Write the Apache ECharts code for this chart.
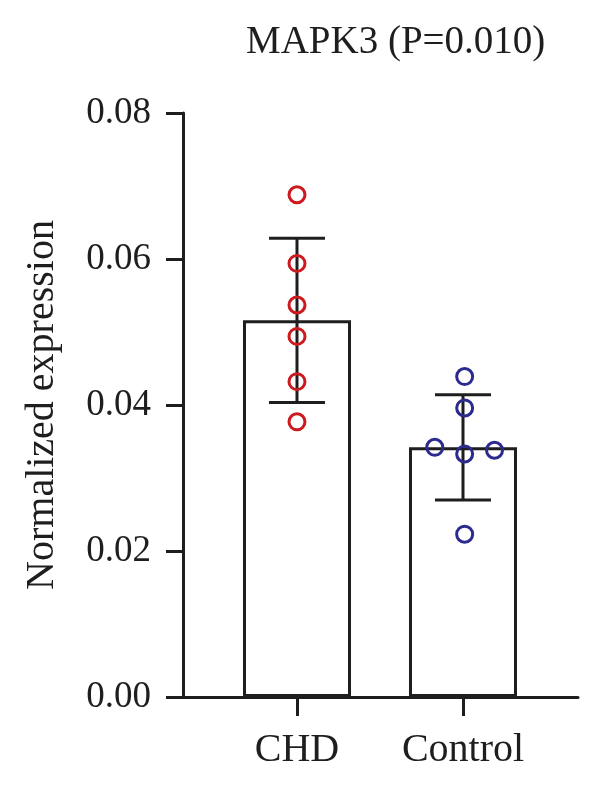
<!DOCTYPE html>
<html>
<head>
<meta charset="utf-8">
<script src="https://cdn.jsdelivr.net/npm/echarts@6/dist/echarts.min.js"></script>
<style>html,body{margin:0;padding:0;background:#fff}#c{width:600px;height:787px}</style>
</head>
<body>
<div id="c"></div>
<script>
var categories = ['CHD', 'Control'];
var barMeans = [0.0516, 0.0342];
var barSDs = [0.01125, 0.0072];
var chdValues = [0.0688, 0.0594, 0.0537, 0.0494, 0.0432, 0.0377];
var chdJitter = [0, 0, 0, 0, 0, 0];
var controlValues = [0.0439, 0.0396, 0.0342, 0.0333, 0.0338, 0.0223];
var controlJitter = [0.01, 0.01, -0.17, 0.01, 0.19, 0.01];
var yTicks = [0, 0.02, 0.04, 0.06, 0.08];
var titleText = 'MAPK3 (P=0.010)';
var yName = 'Normalized expression';

var FONT = '"Liberation Serif", "Times New Roman", serif';
var INK = '#1e1e1e';

var chart = echarts.init(document.getElementById('c'), null, {renderer: 'canvas'});

var barData = barMeans.map(function (m, i) { return [i, m]; });
var errData = barMeans.map(function (m, i) { return [i, m, barSDs[i]]; });
var chdPts = chdValues.map(function (v, i) { return [0 + chdJitter[i], v]; });
var ctrlPts = controlValues.map(function (v, i) { return [1 + controlJitter[i], v]; });

var option = {
  backgroundColor: '#ffffff',
  animation: false,
  title: {
    text: titleText,
    left: 241,
    top: 18,
    textStyle: {fontFamily: FONT, fontSize: 39, fontWeight: 'normal', color: INK}
  },
  grid: {left: 183, right: 22, top: 113, bottom: 90},
  xAxis: {
    type: 'value',
    min: -0.6867,
    max: 1.6928,
    splitLine: {show: false},
    axisLine: {show: true, onZero: false, lineStyle: {color: INK, width: 3}},
    axisTick: {show: true, customValues: [0, 1], length: 19, lineStyle: {color: INK, width: 3}},
    axisLabel: {
      customValues: [0, 1],
      margin: 33,
      fontFamily: FONT, fontSize: 40, color: INK,
      formatter: function (v) { return categories[Math.round(v)]; }
    }
  },
  yAxis: {
    type: 'value',
    min: yTicks[0],
    max: yTicks[yTicks.length - 1],
    interval: 0.02,
    name: yName,
    nameLocation: 'middle',
    nameRotate: 90,
    nameGap: 121,
    nameTextStyle: {fontFamily: FONT, fontSize: 40, color: INK},
    splitLine: {show: false},
    axisLine: {show: true, onZero: false, lineStyle: {color: INK, width: 3}},
    axisTick: {show: true, length: 17, lineStyle: {color: INK, width: 3}},
    axisLabel: {
      margin: 32,
      fontFamily: FONT, fontSize: 37, color: INK,
      formatter: function (v) { return v.toFixed(2); }
    }
  },
  series: [
    {
      type: 'bar',
      data: barData,
      barWidth: 108,
      z: 1,
      itemStyle: {color: '#ffffff', borderColor: INK, borderWidth: 3}
    },
    {
      type: 'custom',
      z: 3,
      data: errData,
      renderItem: function (params, api) {
        var x = api.value(0), m = api.value(1), s = api.value(2);
        var top = api.coord([x, m + s]);
        var bot = api.coord([x, m - s]);
        var hw = 28;
        var st = {stroke: INK, lineWidth: 3};
        return {
          type: 'group',
          children: [
            {type: 'line', shape: {x1: top[0], y1: top[1], x2: bot[0], y2: bot[1]}, style: st},
            {type: 'line', shape: {x1: top[0] - hw, y1: top[1], x2: top[0] + hw, y2: top[1]}, style: st},
            {type: 'line', shape: {x1: bot[0] - hw, y1: bot[1], x2: bot[0] + hw, y2: bot[1]}, style: st}
          ]
        };
      }
    },
    {
      type: 'scatter',
      z: 5,
      data: chdPts,
      symbol: 'circle',
      symbolSize: 16,
      itemStyle: {color: 'rgba(255,255,255,0)', borderColor: '#cc1a1f', borderWidth: 3, opacity: 1}
    },
    {
      type: 'scatter',
      z: 5,
      data: ctrlPts,
      symbol: 'circle',
      symbolSize: 16,
      itemStyle: {color: 'rgba(255,255,255,0)', borderColor: '#2c2a8e', borderWidth: 3, opacity: 1}
    }
  ]
};
chart.setOption(option);
</script>
</body>
</html>
